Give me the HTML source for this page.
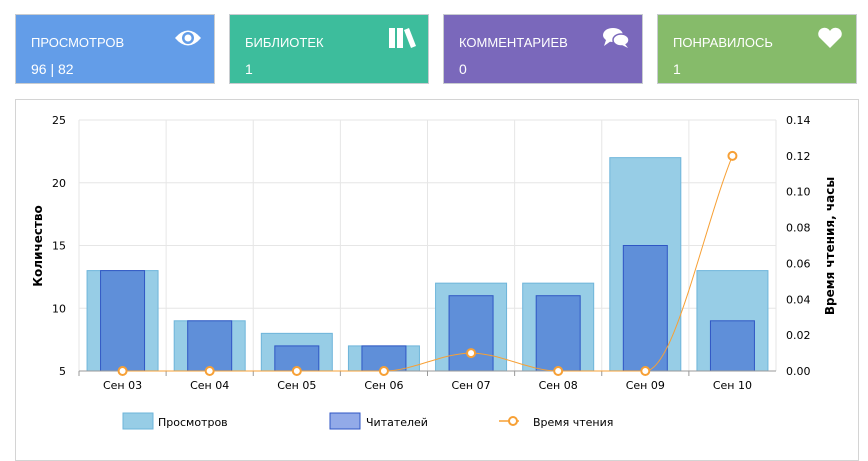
<!DOCTYPE html>
<html><head><meta charset="utf-8"><style>
body{margin:0;width:868px;height:452px;background:#fff;font-family:"Liberation Sans","DejaVu Sans",sans-serif;overflow:hidden;position:relative}
.card{position:absolute;top:14px;width:198px;height:68px;border:1px solid #c8ccd0;color:#fff}
.card .t{position:absolute;left:15px;top:20px;font-size:13px}
.card .v{position:absolute;left:15px;top:46px;font-size:14px}
.card svg{position:absolute;right:12px;top:12px}
#panel{position:absolute;left:15px;top:99px;width:842px;height:360px;border:1px solid #d4d4d4}
#chart text{font-family:"DejaVu Sans","Liberation Sans",sans-serif}
</style></head><body>
<div class="card" style="left:15px;background:#639de8"><div class="t">ПРОСМОТРОВ</div><div class="v">96 | 82</div>
<svg width="28" height="22" viewBox="0 0 28 22"><path d="M1 11 Q14 -4 27 11 Q14 26 1 11Z" fill="#fff"/><circle cx="14" cy="11" r="6" fill="#639de8"/><circle cx="14" cy="11" r="3.5" fill="#fff"/></svg></div>
<div class="card" style="left:229px;background:#3dbd9c"><div class="t">БИБЛИОТЕК</div><div class="v">1</div>
<svg width="28" height="22" viewBox="0 0 28 22"><rect x="1" y="1" width="6" height="20" fill="#fff"/><rect x="9" y="1" width="6" height="20" fill="#fff"/><path d="M16 3 L21 1 L28 19 L23 21Z" fill="#fff"/></svg></div>
<div class="card" style="left:443px;background:#7a68bb"><div class="t">КОММЕНТАРИЕВ</div><div class="v">0</div>
<svg width="28" height="22" viewBox="0 0 28 22"><ellipse cx="11" cy="8" rx="10" ry="7" fill="#fff"/><path d="M4 13 L2 19 L9 14Z" fill="#fff"/><ellipse cx="19" cy="13" rx="8" ry="6" fill="#fff" stroke="#7a68bb" stroke-width="1.5"/><path d="M23 17 L26 21 L20 18Z" fill="#fff"/></svg></div>
<div class="card" style="left:657px;background:#86bb6a"><div class="t">ПОНРАВИЛОСЬ</div><div class="v">1</div>
<svg width="28" height="22" viewBox="0 0 28 22"><path d="M14 21 L3 10 A6 6 0 0 1 14 4 A6 6 0 0 1 25 10Z" fill="#fff"/></svg></div>
<div id="panel"></div>
<svg id="chart" width="868" height="452" style="position:absolute;left:0;top:0"></svg>
<script>
const categories=["Сен 03","Сен 04","Сен 05","Сен 06","Сен 07","Сен 08","Сен 09","Сен 10"];
const views=[13,9,8,7,12,12,22,13];
const readers=[13,9,7,7,11,11,15,9];
const readTime=[0,0,0,0,0.01,0,0,0.12];
const leftTicks=[5,10,15,20,25];
const rightTicks=["0.00","0.02","0.04","0.06","0.08","0.10","0.12","0.14"];
const X0=79,X1=776,Y0=371,Y1=120;
const bw=(X1-X0)/categories.length;
const yL=v=>Y0-(v-5)/20*(Y0-Y1);
const yR=v=>Y0-v/0.14*(Y0-Y1);
const xC=i=>X0+bw*(i+0.5);
const svg=document.getElementById('chart');
const NS='http://www.w3.org/2000/svg';
function mk(t,a,txt){const e=document.createElementNS(NS,t);for(const k in a)e.setAttribute(k,a[k]);if(txt!=null)e.textContent=txt;svg.appendChild(e);return e;}
leftTicks.forEach(v=>{const g=mk('line',{x1:X0,x2:X1,y1:yL(v),y2:yL(v),stroke:'#e6e6e6'});
const t=mk('text',{x:66,y:yL(v)+4,'text-anchor':'end','font-size':11,fill:'#000'},v);});
for(let i=0;i<=categories.length;i++){const g=mk('line',{x1:X0+bw*i,x2:X0+bw*i,y1:Y1,y2:Y0,stroke:'#e6e6e6'});}
rightTicks.forEach(s=>{const t=mk('text',{x:786,y:yR(parseFloat(s))+4,'font-size':11,fill:'#000'},s);});
categories.forEach((c,i)=>{
const b=mk('rect',{x:xC(i)-35.5,y:yL(views[i]),width:71,height:Y0-yL(views[i]),fill:'#97cde6',stroke:'#6eb5da'});
const r=mk('rect',{x:xC(i)-22,y:yL(readers[i]),width:44,height:Y0-yL(readers[i]),fill:'#5f8fd9',stroke:'#2f56c4'});
const t=mk('text',{x:xC(i),y:389,'text-anchor':'middle','font-size':11,fill:'#000'},c);
const tk=mk('line',{x1:X0+bw*i,x2:X0+bw*i,y1:Y0,y2:Y0+5,stroke:'#999'});});
const ax=mk('line',{x1:X0,x2:X1,y1:Y0,y2:Y0,stroke:'#999'});
const pts=readTime.map((v,i)=>[xC(i),yR(v)]);
// monotone cubic
const n=pts.length,dl=[],m=[];
for(let i=0;i<n-1;i++)dl.push((pts[i+1][1]-pts[i][1])/(pts[i+1][0]-pts[i][0]));
for(let i=0;i<n;i++){if(i==0)m.push(dl[0]);else if(i==n-1)m.push(dl[n-2]);else if(dl[i-1]*dl[i]<=0)m.push(0);else m.push((dl[i-1]+dl[i])/2);}
for(let i=0;i<n-1;i++){if(dl[i]==0){m[i]=0;m[i+1]=0;continue;}const a=m[i]/dl[i],b=m[i+1]/dl[i],s=a*a+b*b;if(s>9){const t=3/Math.sqrt(s);m[i]=t*a*dl[i];m[i+1]=t*b*dl[i];}}
let d='M'+pts[0][0]+','+pts[0][1];
for(let i=0;i<n-1;i++){const h=(pts[i+1][0]-pts[i][0])/3;
d+=' C'+(pts[i][0]+h)+','+(pts[i][1]+m[i]*h)+' '+(pts[i+1][0]-h)+','+(pts[i+1][1]-m[i+1]*h)+' '+pts[i+1][0]+','+pts[i+1][1];}
const ln=mk('path',{d:d,fill:'none',stroke:'#f7a035','stroke-width':1});
pts.forEach(p=>{const c=mk('circle',{cx:p[0],cy:p[1],r:4,fill:'#fff',stroke:'#f7a035','stroke-width':2});});
const yt=mk('text',{x:0,y:0,transform:'translate(42,246) rotate(-90)','text-anchor':'middle','font-size':12,'font-weight':'bold'},'Количество');
const yt2=mk('text',{x:0,y:0,transform:'translate(834,246) rotate(-90)','text-anchor':'middle','font-size':12,'font-weight':'bold'},'Время чтения, часы');
const l1=mk('rect',{x:123,y:413,width:30,height:16,fill:'#97cde6',stroke:'#6eb5da'});
const lt1=mk('text',{x:158,y:426,'font-size':11},'Просмотров');
const l2=mk('rect',{x:330,y:413,width:30,height:16,fill:'#92aae8',stroke:'#2f56c4'});
const lt2=mk('text',{x:349,y:426,'font-size':11},'Читателей');lt2.setAttribute('x',366);
const l3=mk('line',{x1:499,x2:519,y1:421,y2:421,stroke:'#f7a035','stroke-width':1.5});
const l3c=mk('circle',{cx:513,cy:421,r:4,fill:'#fff',stroke:'#f7a035','stroke-width':2});
const lt3=mk('text',{x:533,y:426,'font-size':11},'Время чтения');
</script>
</body></html>
